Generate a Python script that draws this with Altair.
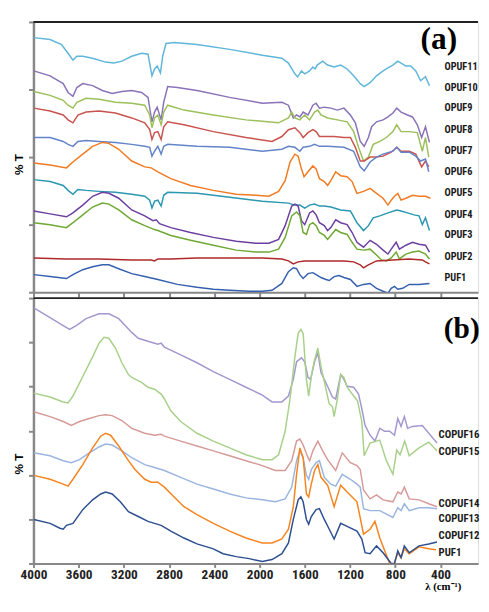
import altair as alt
import pandas as pd

# ---------------- panel (a): wavenumber (cm-1) and %T (arbitrary units) ----------------
OPUF11_w = [3997,3853,3752,3694,3651,3616,3564,3477,3362,3290,3218,3131,3044,2987,2952,2929,2906,2877,2857,2828,2756,2554,2265,1976,1803,1745,1688,1664,1630,1601,1558,1529,1509,1491,1442,1399,1341,1283,1226,1168,1110,1075,1023,966,908,865,821,778,749,706,663,619,576,533,498]
OPUF11_t = [259,257,252,243,236,240,240,238,234,233,235,240,243,242,220,227,230,223,240,253,254,252,247,241,238,233,222,219,225,222,225,229,227,231,235,231,229,231,227,220,212,209,213,220,225,228,231,235,233,230,230,225,215,219,210]

OPUF10_w = [3997,3853,3737,3694,3651,3616,3564,3477,3391,3304,3218,3131,3044,2987,2952,2929,2906,2871,2848,2813,2727,2554,2265,1976,1803,1745,1702,1673,1644,1615,1572,1529,1500,1471,1428,1370,1312,1254,1197,1153,1110,1075,1038,1009,966,908,865,821,787,749,692,648,605,567,533,498]
OPUF10_t = [225,220,212,203,199,208,212,210,205,202,204,205,203,198,173,183,188,175,193,209,208,205,198,192,193,190,177,180,178,183,180,190,192,187,188,187,185,187,180,172,153,148,157,168,173,175,178,182,187,183,180,178,170,157,168,152]

OPUF9_w = [3997,3853,3737,3694,3651,3616,3535,3420,3275,3131,3016,2972,2952,2929,2900,2871,2848,2813,2669,2409,2121,1832,1745,1716,1688,1644,1601,1558,1514,1485,1457,1399,1312,1226,1168,1125,1081,1038,995,937,879,821,787,749,677,605,561,533,504]
OPUF9_t = [204,200,195,190,187,193,197,196,193,192,190,180,167,177,180,170,183,190,185,180,175,172,177,183,177,175,180,175,183,185,180,177,175,173,163,147,133,137,150,153,157,163,170,163,163,162,143,157,137]

OPUF8_w = [3997,3853,3737,3694,3651,3607,3535,3420,3275,3131,3016,2972,2952,2929,2900,2871,2848,2813,2669,2409,2121,1890,1803,1745,1688,1644,1615,1572,1529,1500,1471,1428,1341,1254,1197,1153,1110,1075,1023,966,908,836,787,749,677,619,567,533,504]
OPUF8_t = [187,184,180,175,172,180,183,184,182,177,172,165,155,162,163,155,168,173,170,163,157,153,158,165,167,162,157,162,165,163,158,158,158,157,157,147,133,133,137,137,138,142,147,143,143,140,127,133,127]

OPUF7_w = [3997,3853,3737,3694,3651,3607,3535,3420,3275,3131,3016,2972,2952,2929,2900,2871,2848,2813,2554,2265,1976,1803,1745,1688,1644,1615,1558,1514,1471,1399,1254,1168,1110,1075,1023,966,908,821,787,749,677,619,576,533,504]
OPUF7_t = [157,157,153,150,148,153,154,153,152,150,148,147,138,143,148,140,148,150,148,147,143,145,148,147,143,147,148,150,148,148,147,143,127,123,132,137,140,143,147,142,142,138,133,135,122]

OPUF6_w = [3997,3853,3708,3651,3564,3477,3391,3333,3246,3131,3016,2958,2900,2785,2611,2409,2207,2034,1918,1832,1774,1731,1688,1659,1630,1607,1572,1529,1500,1471,1428,1399,1370,1327,1283,1226,1182,1139,1081,1023,966,908,865,836,807,778,749,706,648,590,533,489]
OPUF6_t = [131,129,126,132,140,148,152,151,145,133,127,126,122,115,108,103,99,98,97,102,113,132,140,138,125,117,122,128,125,115,112,108,113,122,118,117,112,100,102,105,100,95,88,93,97,100,93,95,98,97,97,95]

OPUF5_w = [3997,3853,3737,3694,3651,3607,3535,3420,3275,3131,3016,2972,2952,2929,2900,2871,2848,2813,2554,2265,1976,1745,1688,1644,1601,1558,1514,1471,1428,1370,1283,1197,1139,1081,1038,995,937,865,787,749,692,634,590,561,533,498]
OPUF5_t = [114,112,108,103,99,104,103,102,101,99,97,93,85,92,93,87,98,101,100,96,92,90,88,88,85,88,89,87,87,86,83,82,70,62,67,75,77,80,83,82,80,78,77,68,75,62]

OPUF4_w = [3997,3853,3708,3651,3564,3477,3391,3333,3246,3131,3016,2943,2914,2885,2785,2611,2409,2207,2034,1918,1832,1774,1716,1688,1659,1630,1601,1558,1529,1500,1471,1428,1399,1370,1327,1283,1226,1182,1139,1081,1023,966,908,865,836,792,764,706,648,590,533,498]
OPUF4_t = [82,79,76,80,88,97,101,100,95,83,77,72,73,69,65,60,55,51,49,49,53,67,87,89,87,72,68,80,82,78,70,67,62,65,73,70,68,60,50,45,52,48,42,38,43,50,43,47,50,48,47,40]

OPUF3_w = [3997,3853,3708,3651,3564,3477,3391,3333,3246,3131,3016,2929,2900,2785,2611,2409,2207,2034,1918,1832,1774,1716,1673,1644,1615,1586,1558,1529,1500,1471,1428,1399,1370,1327,1283,1226,1182,1139,1081,1023,966,923,879,836,792,764,706,648,590,533,498]
OPUF3_t = [70,68,65,70,78,86,90,89,83,73,67,63,62,57,52,47,42,40,40,43,55,77,81,77,60,58,68,70,67,60,57,53,57,63,60,58,50,43,42,43,37,32,31,34,40,33,38,40,41,38,33]

OPUF2_w = [3997,3708,3420,3131,2958,2929,2900,2785,2554,2265,1976,1803,1745,1702,1659,1601,1514,1399,1254,1168,1110,1081,1038,966,821,677,561,533,498]
OPUF2_t = [34,33,33,32,32,31,33,33,34,34,34,33,31,28,30,31,31,31,31,30,27,24,27,31,32,33,32,30,28]

PUF1a_w = [3997,3853,3708,3651,3564,3477,3391,3333,3246,3131,3016,2900,2727,2554,2409,2265,2092,1976,1890,1803,1745,1702,1673,1644,1615,1572,1529,1500,1457,1413,1384,1341,1298,1254,1197,1139,1081,1023,966,908,865,836,807,778,735,677,590,498]
PUF1a_t = [17,15,13,17,22,25,27,27,23,18,15,12,7,4,2,1,0,0,1,8,20,24,23,17,13,18,19,17,14,12,11,15,16,14,12,5,7,8,3,0,-2,3,5,2,3,7,7,8]

# ---------------- panel (b) ----------------
COPUF16_w = [3997,3853,3737,3680,3622,3535,3420,3333,3246,3131,3073,2958,2900,2871,2842,2698,2554,2409,2265,2121,1976,1890,1803,1745,1702,1673,1630,1601,1572,1549,1514,1485,1457,1399,1356,1327,1283,1254,1226,1168,1125,1096,1067,1023,980,937,894,850,807,778,749,720,691,648,561,489,431]
COPUF16_t = [261,251,243,239,243,250,255,255,250,236,230,226,224,225,221,213,205,196,188,180,172,165,165,171,188,206,210,206,190,188,206,215,195,181,170,168,193,188,181,180,173,158,141,131,125,138,135,135,131,148,140,150,138,140,141,131,123]

COPUF15_w = [3997,3853,3737,3694,3651,3564,3477,3420,3376,3333,3275,3218,3160,3131,3044,2987,2929,2871,2842,2785,2698,2554,2409,2265,2121,1976,1890,1832,1774,1731,1688,1659,1635,1615,1586,1566,1543,1514,1485,1457,1413,1384,1355,1341,1312,1283,1254,1226,1168,1134,1096,1075,1023,937,879,821,787,758,717,677,590,504,431]
COPUF15_t = [174,170,165,164,171,191,211,225,231,230,220,205,193,190,185,180,178,173,168,156,145,133,125,118,111,106,106,111,135,168,211,235,239,235,188,171,191,208,220,201,178,163,160,150,168,193,190,180,171,166,145,110,123,126,105,91,116,111,125,110,118,124,115]

COPUF14_w = [3997,3853,3737,3665,3593,3506,3420,3362,3304,3218,3131,3016,2929,2871,2842,2698,2554,2409,2265,2121,1976,1861,1774,1716,1673,1644,1615,1572,1557,1529,1485,1442,1399,1327,1269,1197,1139,1110,1081,1023,966,908,821,778,749,720,677,590,504,431]
COPUF14_t = [155,150,145,141,145,148,151,152,151,146,138,133,131,132,130,125,120,115,110,105,100,95,95,105,125,127,121,108,105,115,125,115,106,95,113,103,100,96,75,66,70,65,63,73,71,78,66,65,61,58]

COPUF13_w = [3997,3853,3737,3665,3593,3506,3420,3362,3304,3218,3131,3016,2929,2871,2842,2698,2554,2409,2265,2121,1976,1861,1774,1716,1673,1644,1615,1586,1566,1543,1500,1471,1428,1370,1327,1269,1197,1139,1110,1081,1023,937,821,778,749,720,677,590,504,431]
COPUF13_t = [113,110,105,103,106,113,119,122,121,115,108,101,98,96,95,88,81,76,71,67,65,63,66,78,105,115,108,90,86,96,103,105,88,81,79,91,86,81,78,56,54,54,47,57,54,61,54,57,57,56]

COPUF12_w = [3997,3853,3737,3694,3651,3564,3477,3405,3362,3318,3246,3160,3102,3016,2958,2900,2842,2756,2669,2554,2409,2265,2121,1976,1890,1803,1745,1702,1673,1644,1615,1586,1566,1543,1514,1485,1457,1399,1341,1283,1226,1139,1081,1023,980,937,850,821,778,749,720,677,590,504,440]
COPUF12_t = [90,86,81,79,86,101,118,130,133,131,120,105,96,86,83,83,78,68,58,50,41,33,26,21,21,25,35,58,91,118,108,71,68,81,95,101,88,80,58,80,73,63,30,35,43,26,0,-4,11,6,15,10,17,15,14]

PUF1b_w = [3997,3853,3766,3737,3708,3651,3564,3477,3405,3362,3304,3232,3160,3073,2987,2929,2871,2785,2669,2554,2409,2323,2207,2092,1976,1890,1803,1745,1702,1659,1635,1615,1586,1566,1543,1500,1471,1428,1384,1341,1283,1226,1139,1096,1067,1023,966,908,836,807,778,749,720,677,590,504,431]
PUF1b_t = [45,41,36,35,39,41,55,65,71,73,71,63,53,48,43,41,39,33,26,20,15,10,7,5,2,4,10,21,45,65,68,63,45,40,48,55,56,45,35,25,41,38,33,25,11,10,18,11,0,0,13,6,18,11,18,20,22]

# series names, colours
names_a = ["OPUF11","OPUF10","OPUF9","OPUF8","OPUF7","OPUF6","OPUF5","OPUF4","OPUF3","OPUF2","PUF1 (a)"]
colors_a = ["#5fb6d9","#8a72b8","#9cc05a","#c9534f","#6384c8","#f07b22","#2b97b0","#6b3fa0","#6fa832","#b0282a","#3560b0"]
data_a = [(OPUF11_w,OPUF11_t),(OPUF10_w,OPUF10_t),(OPUF9_w,OPUF9_t),(OPUF8_w,OPUF8_t),(OPUF7_w,OPUF7_t),
          (OPUF6_w,OPUF6_t),(OPUF5_w,OPUF5_t),(OPUF4_w,OPUF4_t),(OPUF3_w,OPUF3_t),(OPUF2_w,OPUF2_t),(PUF1a_w,PUF1a_t)]

names_b = ["COPUF16","COPUF15","COPUF14","COPUF13","COPUF12","PUF1 (b)"]
colors_b = ["#a497cf","#a8d08a","#d69a98","#9ab5e0","#f5841f","#2c4f8f"]
data_b = [(COPUF16_w,COPUF16_t),(COPUF15_w,COPUF15_t),(COPUF14_w,COPUF14_t),(COPUF13_w,COPUF13_t),
          (COPUF12_w,COPUF12_t),(PUF1b_w,PUF1b_t)]

# curve labels
labels_a = ["OPUF11","OPUF10","OPUF9","OPUF8","OPUF7","OPUF6","OPUF5","OPUF4","OPUF3","OPUF2","PUF1"]
labels_a_t = [229,208,187,165,143,122,100,78,57,35,13]
labels_a_w = 365
labels_b = ["COPUF16","COPUF15","COPUF14","COPUF13","COPUF12","PUF1"]
labels_b_t = [131,114,61,45,28,11]
labels_b_w = 417

XDOM = [4000, 68]
XTICKS = [4000,3600,3200,2800,2400,2000,1600,1200,800,400]
YDOM_A = [-1, 275]
YTICKS_A = [-1, 68, 137, 206, 275]
YDOM_B = [0, 271]
YTICKS_B = [0, 45.2, 90.3, 135.5, 180.7, 225.8, 271]

W = 454
HA = 276
HB = 271
NARROW = "Roboto Condensed, Liberation Sans Narrow, Arial Narrow, DejaVu Sans Condensed, sans-serif"
SERIF = "Liberation Serif, Times New Roman, serif"


def long_df(names, data):
    frames = []
    for n, (w, t) in zip(names, data):
        assert len(w) == len(t), n
        frames.append(pd.DataFrame({"w": w, "t": t, "s": n}))
    return pd.concat(frames, ignore_index=True)


def panel(names, colors, data, labels, labels_t, labels_w, ydom, yticks, height,
          tag, tag_w, tag_t, tag_align, tag_size, label_size, label_limit, bottom, title_y):
    df = long_df(names, data)
    xaxis = alt.Axis(values=XTICKS, labels=bottom, title="λ (cm⁻¹)" if bottom else None,
                     tickSize=5 if not bottom else 4, tickWidth=2, domainWidth=2,
                     grid=False, format="d", labelFont=NARROW, labelFontSize=13.5,
                     labelFontWeight="bold", labelPadding=0, labelColor="#222",
                     labelFlush=False, labelOverlap=False,
                     titleFont=SERIF, titleFontSize=11, titleFontWeight="bold",
                     titleX=418, titleY=18, titleAlign="center", titleBaseline="top")
    yaxis = alt.Axis(values=yticks, labels=False, title="% T", tickSize=5, tickWidth=2,
                     domainWidth=2.5, grid=False, titleX=-15, titleY=title_y,
                     titleAngle=270, titleAlign="center", titleBaseline="middle",
                     titleFont="Liberation Sans, Arial, sans-serif", titleFontSize=12,
                     titleFontWeight="bold")
    xs = alt.Scale(domain=XDOM, nice=False, zero=False)
    ys = alt.Scale(domain=ydom, nice=False, zero=False)
    X = alt.X("w:Q", scale=xs, axis=xaxis)
    Y = alt.Y("t:Q", scale=ys, axis=yaxis)
    lines = alt.Chart(df).mark_line(strokeWidth=1.5, clip=True).encode(
        x=X, y=Y,
        color=alt.Color("s:N", scale=alt.Scale(domain=names, range=colors), legend=None),
    )
    ldf = pd.DataFrame({"w": [labels_w] * len(labels), "t": labels_t, "name": labels})
    text = alt.Chart(ldf).mark_text(align="left", baseline="middle", font=NARROW,
                                     fontSize=label_size, fontWeight="bold", color="#1a1a1a",
                                     limit=label_limit, ellipsis=" ").encode(
        x=X, y=Y, text="name:N")
    tdf = pd.DataFrame({"w": [tag_w], "t": [tag_t], "name": [tag]})
    tagm = alt.Chart(tdf).mark_text(align=tag_align, baseline="alphabetic", font=SERIF,
                                     fontSize=tag_size, fontWeight="bold", color="black",
                                     limit=40, ellipsis=" ").encode(
        x=X, y=Y, text="name:N")
    top = alt.Chart(tdf).mark_rule(strokeWidth=2, color="#222").encode(
        x=alt.value(0), x2=alt.value(W), y=alt.value(0))
    return alt.layer(lines, text, tagm, top).properties(width=W, height=height)


pa = panel(names_a, colors_a, data_a, labels_a, labels_a_t, labels_a_w, YDOM_A, YTICKS_A,
           HA, "(a)", 415, 247, "center", 32, 10.5, 36, False, 145)
pb = panel(names_b, colors_b, data_b, labels_b, labels_b_t, labels_b_w, YDOM_B, YTICKS_B,
           HB, "(b)", 371, 230, "left", 30, 11, 42, True, 169)

chart = alt.VConcatChart(vconcat=[pa, pb], spacing=6, bounds="flush").resolve_scale(
    color="independent", y="independent", x="independent"
).properties(
    padding={"top": 6, "left": 4, "right": 0, "bottom": 0}
).configure_view(stroke=None).configure_axis(
    domainColor="#111", tickColor="#111"
).configure(background="white")

chart.save("out.html", embed_options={"renderer": "svg", "actions": False})
